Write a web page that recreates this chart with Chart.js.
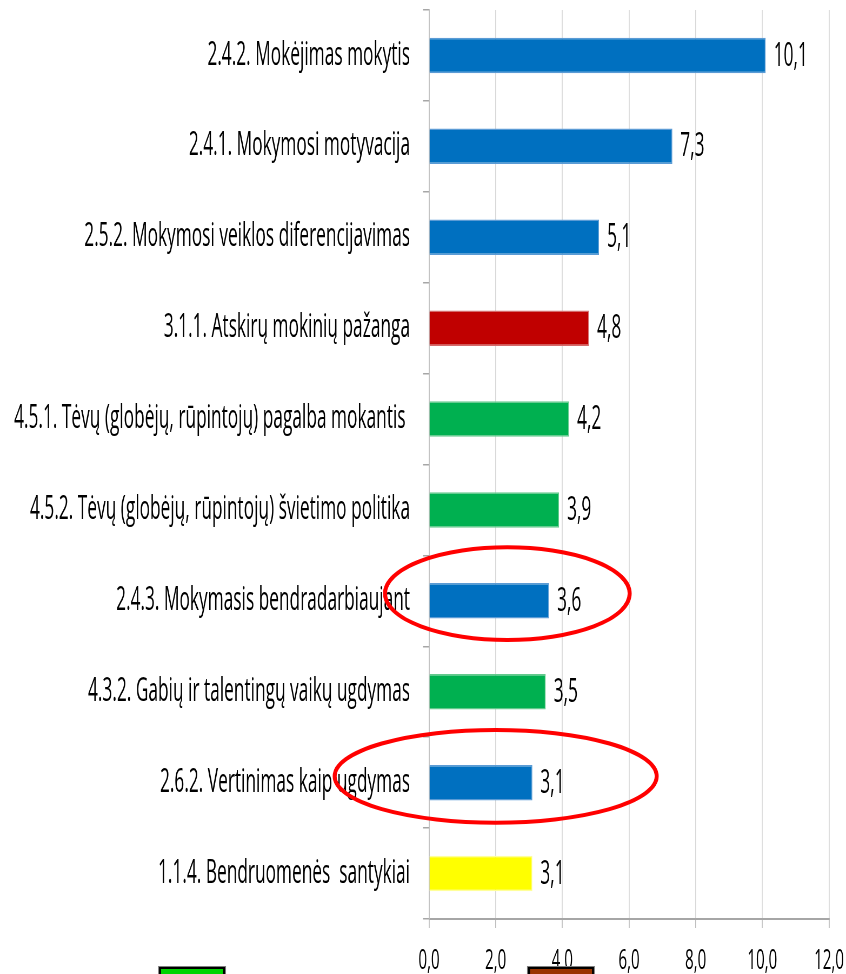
<!DOCTYPE html>
<html>
<head>
<meta charset="utf-8">
<script src="https://cdn.jsdelivr.net/npm/chart.js@4"></script>
<style>
  html, body { margin: 0; padding: 0; background: #fff; overflow: hidden; }
  #myChart { display: block; }
</style>
</head>
<body>
<!-- canvas drawn wider than shown and squeezed back, to get the narrow Calibri look -->
<canvas id="myChart" style="width:846px;height:974px"></canvas>
<script>
const SQUEEZE = 1.85; // canvas px per screen px, horizontally
const FONT = 'Open Sans';

const categories = [
    '2.4.2. Mokėjimas mokytis',
    '2.4.1. Mokymosi motyvacija',
    '2.5.2. Mokymosi veiklos diferencijavimas',
    '3.1.1. Atskirų mokinių pažanga',
    '4.5.1. Tėvų (globėjų, rūpintojų) pagalba mokantis ',
    '4.5.2. Tėvų (globėjų, rūpintojų) švietimo politika',
    '2.4.3. Mokymasis bendradarbiaujant',
    '4.3.2. Gabių ir talentingų vaikų ugdymas',
    '2.6.2. Vertinimas kaip ugdymas',
    '1.1.4. Bendruomenės  santykiai'
];
const values = [10.1, 7.3, 5.1, 4.8, 4.2, 3.9, 3.6, 3.5, 3.1, 3.1];
const barColors = ['#0070c0', '#0070c0', '#0070c0', '#c00000', '#00b050',
                   '#00b050', '#0070c0', '#00b050', '#0070c0', '#ffff00'];
const barEdges = ['#5b9bd5', '#5b9bd5', '#5b9bd5', '#d46a6a', '#63c98c',
                  '#63c98c', '#5b9bd5', '#63c98c', '#5b9bd5', '#ffff99'];
const xTicks = [0, 2, 4, 6, 8, 10, 12];

// red hand-drawn circles: [centre value, category index, half width (value), half height (categories)]
const circled = [
    [2.35, 5.92, 3.67, 0.51],
    [2.0, 7.93, 4.83, 0.51]
];
// cut-off legend swatches below the chart (screen px)
const legendBoxes = [
    { x: 159, color: '#00d400' },
    { x: 528, color: '#993300' }
];

const fmt = v => v.toFixed(1).replace('.', ',');

const canvas = document.getElementById('myChart');
canvas.width = Math.round(846 * SQUEEZE);
canvas.height = 974;
const sx = canvas.width / 846;

const valueLabels = {
    id: 'valueLabels',
    afterDatasetsDraw(chart) {
        const ctx = chart.ctx;
        const meta = chart.getDatasetMeta(0);
        ctx.save();
        ctx.font = '32px "' + FONT + '"';
        ctx.fillStyle = '#000';
        ctx.textBaseline = 'middle';
        ctx.textAlign = 'left';
        meta.data.forEach((bar, i) => {
            ctx.fillText(fmt(values[i]), bar.x + 8 * sx, bar.y + 1);
        });
        ctx.restore();
    }
};

const marks = {
    id: 'marks',
    afterDraw(chart) {
        const ctx = chart.ctx;
        const xs = chart.scales.x, ys = chart.scales.y;
        ctx.save();
        ctx.scale(sx, 1); // draw in screen units so the stroke stays even
        ctx.strokeStyle = '#ff0000';
        ctx.lineWidth = 4;
        circled.forEach(([xv, yi, rxv, ryi]) => {
            const cx = xs.getPixelForValue(xv) / sx;
            const cy = ys.getPixelForValue(yi);
            const rx = (xs.getPixelForValue(xv + rxv) - xs.getPixelForValue(xv)) / sx;
            const ry = ys.getPixelForValue(yi + ryi) - cy;
            ctx.beginPath();
            ctx.ellipse(cx, cy, rx, ry, 0, 0, Math.PI * 2);
            ctx.stroke();
        });
        legendBoxes.forEach(b => {
            ctx.fillStyle = '#7f7f7f';
            ctx.fillRect(b.x - 1, 966, 68, 20);
            ctx.fillStyle = '#000';
            ctx.fillRect(b.x, 967, 66, 20);
            ctx.fillStyle = b.color;
            ctx.fillRect(b.x + 2, 969, 62, 20);
        });
        ctx.restore();
    }
};

let chartJS = new Chart(canvas.getContext('2d'), {
    type: 'bar',
    data: {
        labels: categories,
        datasets: [{
            data: values,
            backgroundColor: barColors,
            borderColor: barEdges,
            borderWidth: 1.5,
            borderSkipped: 'start',
            categoryPercentage: 1,
            barPercentage: 0.39
        }]
    },
    options: {
        indexAxis: 'y',
        responsive: false,
        animation: false,
        devicePixelRatio: 1,
        layout: { padding: { top: 10, right: 17 * sx, left: 0, bottom: 0 } },
        plugins: {
            legend: { display: false },
            tooltip: { enabled: false }
        },
        scales: {
            x: {
                min: 0,
                max: 12,
                afterBuildTicks: s => { s.ticks = xTicks.map(v => ({ value: v })); },
                afterFit: s => { s.height = 55; s.paddingLeft = 0; s.paddingRight = 0; },
                ticks: {
                    callback: v => fmt(v),
                    color: '#000',
                    font: { family: FONT, size: 28 },
                    padding: 16,
                    maxRotation: 0
                },
                grid: {
                    color: '#d9d9d9',
                    lineWidth: sx,
                    tickLength: 9,
                    tickColor: '#bfbfbf'
                },
                border: { color: '#a6a6a6', width: 2 }
            },
            y: {
                afterFit: s => { s.width = 429 * sx; s.paddingTop = 0; s.paddingBottom = 0; },
                ticks: {
                    color: '#000',
                    font: { family: FONT, size: 32 },
                    padding: 13 * sx
                },
                grid: {
                    drawOnChartArea: false,
                    tickLength: 6 * sx,
                    color: '#a6a6a6',
                    lineWidth: 1.5
                },
                border: { color: '#bfbfbf', width: sx }
            }
        }
    },
    plugins: [valueLabels, marks]
});
</script>
</body>
</html>
